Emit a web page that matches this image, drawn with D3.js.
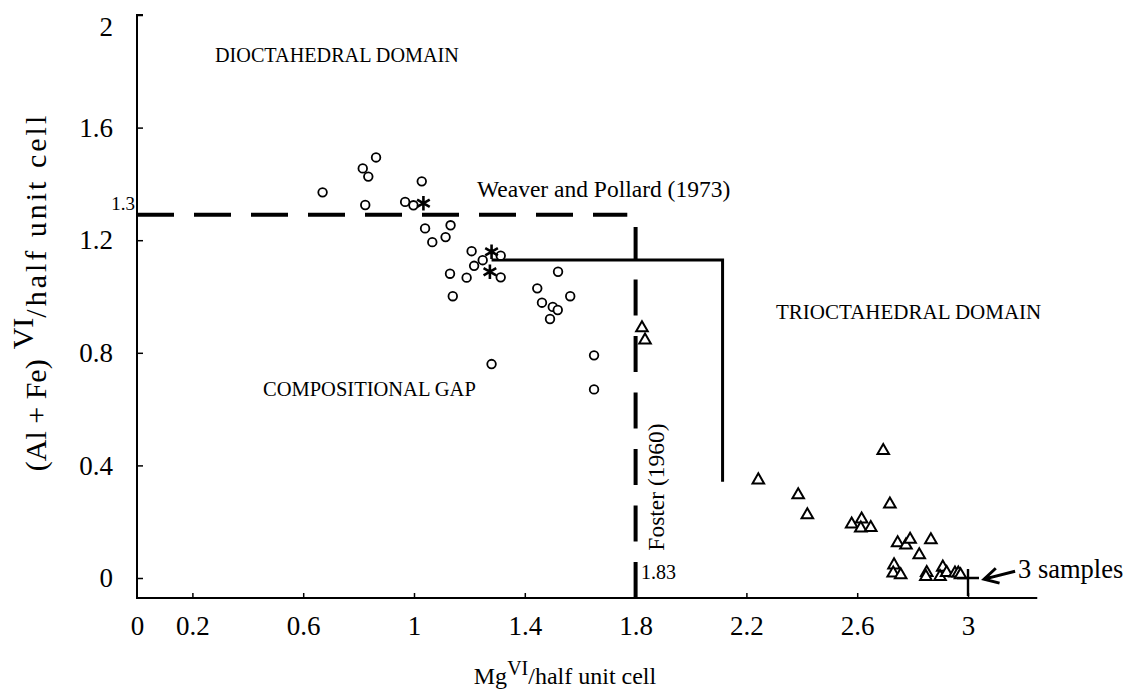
<!DOCTYPE html>
<html>
<head>
<meta charset="utf-8">
<script src="https://cdn.jsdelivr.net/npm/d3@7"></script>
<style>
	html, body { margin: 0; padding: 0; background: #fff; }
	svg { display: block; }
</style>
</head>
<body>
<div id="chart"></div>
<script>
// ? dioctahedral samples (open circles)
const circleMg = [0.67, 0.815, 0.835, 0.863, 0.824, 1.028, 0.968, 0.998, 1.04, 1.066, 1.114, 1.132, 1.208, 1.248, 1.217, 1.13, 1.19, 1.14, 1.313, 1.313, 1.28, 1.445, 1.52, 1.462, 1.501, 1.519, 1.491, 1.564, 1.65, 1.65]
const circleAlFe = [1.37, 1.455, 1.426, 1.494, 1.325, 1.409, 1.336, 1.324, 1.242, 1.193, 1.211, 1.253, 1.161, 1.129, 1.109, 1.081, 1.067, 1.001, 1.145, 1.068, 0.76, 1.029, 1.088, 0.978, 0.963, 0.952, 0.92, 1.001, 0.791, 0.67]

// ? asterisks
const starMg = [1.034, 1.28, 1.274]
const starAlFe = [1.331, 1.159, 1.088]

// ? trioctahedral samples (open triangles)
const triMg = [1.823, 1.834, 2.243, 2.387, 2.42, 2.694, 2.718, 2.58, 2.616, 2.613, 2.649, 2.746, 2.776, 2.791, 2.866, 2.824, 2.733, 2.73, 2.757, 2.851, 2.848, 2.909, 2.899, 2.923, 2.953, 2.965, 2.973]
const triAlFe = [0.888, 0.845, 0.348, 0.295, 0.224, 0.452, 0.262, 0.191, 0.209, 0.177, 0.179, 0.125, 0.117, 0.137, 0.135, 0.082, 0.046, 0.017, 0.011, 0.019, 0.005, 0.038, 0.005, 0.019, 0.017, 0.017, 0.011]

// ? "3 samples" point
const plusMg = [3]
const plusAlFe = [0]

// ? boundary lines
const weaverLine = [[0, 1.29], [1.77, 1.29]]
const fosterLine = [[1.8, -0.071], [1.8, 1.247]]
const solidLine = [[1.28, 1.13], [2.114, 1.13], [2.114, 0.342]]

const xTicks = [0, 0.2, 0.6, 1, 1.4, 1.8, 2.2, 2.6, 3]
const yTicks = [0, 0.4, 0.8, 1.2, 1.6, 2]

const width = 1126
const height = 691
const serif = '"Liberation Serif"'

const x = d3.scaleLinear().domain([0, 3]).range([137, 968])
const y = d3.scaleLinear().domain([0, 2]).range([578, 15])
const yBottom = -0.071 // ? axis runs a bit below 0
const xRight = 3.25

const svg = d3
	.create('svg')
	.attr('width', width)
	.attr('height', height)
	.attr('viewBox', [0, 0, width, height])
	.attr('font-family', serif)

svg.append('rect').attr('width', width).attr('height', height).attr('fill', '#fff')

// ? axes
const yAxis = d3
	.axisLeft(y)
	.tickValues(yTicks)
	.tickSize(-6)
	.tickPadding(24)
	.tickFormat((d) => String(d))

const xAxis = d3
	.axisBottom(x)
	.tickValues(xTicks)
	.tickSize(-5)
	.tickPadding(18)
	.tickFormat((d) => String(d))

const gy = svg.append('g').attr('transform', `translate(${x(0)},0)`).call(yAxis)
const gx = svg.append('g').attr('transform', `translate(0,${y(yBottom)})`).call(xAxis)

gy.select('.domain').remove()
gx.select('.domain').remove()
gx.selectAll('.tick').filter((d) => d === 0).select('line').remove()
// the top label sits a little below its tick in the original
gy.selectAll('.tick').filter((d) => d === 2).select('text').attr('dy', '0.75em')
svg.selectAll('.tick line').attr('stroke', '#000').attr('stroke-width', 1.5)
svg
	.selectAll('.tick text')
	.attr('fill', '#000')
	.attr('font-size', 27)
	.attr('font-family', serif)

// axis lines
svg
	.append('path')
	.attr('fill', 'none')
	.attr('stroke', '#000')
	.attr('stroke-width', 2)
	.attr('d', d3.line()([[x(0) + 6, y(2)], [x(0), y(2)], [x(0), y(yBottom)], [x(xRight), y(yBottom)]]))

const line = d3.line().x((d) => x(d[0])).y((d) => y(d[1]))

svg
	.append('path')
	.attr('fill', 'none')
	.attr('stroke', '#000')
	.attr('stroke-width', 4)
	.attr('stroke-dasharray', '37,20')
	.attr('d', line(weaverLine))

svg
	.append('path')
	.attr('fill', 'none')
	.attr('stroke', '#000')
	.attr('stroke-width', 4)
	.attr('stroke-dasharray', '36,20.5')
	.attr('d', line(fosterLine))

svg
	.append('path')
	.attr('fill', 'none')
	.attr('stroke', '#000')
	.attr('stroke-width', 3)
	.attr('d', line(solidLine))

// ? markers
const marks = svg.append('g').attr('fill', 'none').attr('stroke', '#000').attr('stroke-width', 1.8)

marks
	.selectAll('circle')
	.data(circleMg.map((m, i) => [m, circleAlFe[i]]))
	.join('circle')
	.attr('cx', (d) => x(d[0]))
	.attr('cy', (d) => y(d[1]))
	.attr('r', 4.3)
	.attr('fill', '#fff')

marks
	.selectAll('path.tri')
	.data(triMg.map((m, i) => [m, triAlFe[i]]))
	.join('path')
	.attr('class', 'tri')
	.attr('fill', '#fff')
	.attr('stroke-width', 2)
	.attr('transform', (d) => `translate(${x(d[0])},${y(d[1])})`)
	.attr('d', d3.symbol(d3.symbolTriangle, 58))

const asterisk = d3.symbolAsterisk || {
	draw(ctx, size) {
		const r = Math.sqrt(size) * 0.6
		const t = r / 2
		const u = t * Math.sqrt(3)
		ctx.moveTo(0, r); ctx.lineTo(0, -r)
		ctx.moveTo(-u, -t); ctx.lineTo(u, t)
		ctx.moveTo(-u, t); ctx.lineTo(u, -t)
	},
}

marks
	.selectAll('path.star')
	.data(starMg.map((m, i) => [m, starAlFe[i]]))
	.join('path')
	.attr('class', 'star')
	.attr('stroke-width', 2.6)
	.attr('transform', (d) => `translate(${x(d[0])},${y(d[1])})`)
	.attr('d', d3.symbol(asterisk, 150))

marks
	.selectAll('path.plus')
	.data(plusMg.map((m, i) => [m, plusAlFe[i]]))
	.join('path')
	.attr('class', 'plus')
	.attr('stroke-width', 2.4)
	.attr('transform', (d) => `translate(${x(d[0])},${y(d[1])})`)
	.attr('d', 'M-11,0H11M0,-9V18')

// ? arrow to the 3 samples
const arrowTail = [x(3.17), y(0.024)]
const arrowHead = [x(3.058), y(-0.004)]
const ang = Math.atan2(arrowHead[1] - arrowTail[1], arrowHead[0] - arrowTail[0])
const hl = 16
svg
	.append('path')
	.attr('fill', 'none')
	.attr('stroke', '#000')
	.attr('stroke-width', 3)
	.attr(
		'd',
		`M${arrowTail[0]},${arrowTail[1]}L${arrowHead[0]},${arrowHead[1]}` +
			`M${arrowHead[0] - hl * Math.cos(ang - 0.5)},${arrowHead[1] - hl * Math.sin(ang - 0.5)}` +
			`L${arrowHead[0]},${arrowHead[1]}` +
			`L${arrowHead[0] - hl * Math.cos(ang + 0.5)},${arrowHead[1] - hl * Math.sin(ang + 0.5)}`,
	)

// ? annotations
const txt = (t, px, py, size, anchor = 'start') =>
	svg
		.append('text')
		.attr('x', px)
		.attr('y', py)
		.attr('font-size', size)
		.attr('font-family', serif)
		.attr('text-anchor', anchor)
		.attr('fill', '#000')
		.text(t)

txt('DIOCTAHEDRAL DOMAIN', 215, 62, 20.2)
txt('Weaver and Pollard (1973)', 477, 197, 23.5)
txt('TRIOCTAHEDRAL DOMAIN', 776, 319, 21)
txt('COMPOSITIONAL GAP', 263, 396, 20.5)
txt('1.83', 641, 579, 20)
txt('1.3', 135, 210, 19, 'end')
txt('3 samples', 1018, 578, 26.5)

svg
	.append('text')
	.attr('transform', 'translate(664,487) rotate(-90)')
	.attr('font-size', 23.5)
	.attr('font-family', serif)
	.attr('text-anchor', 'middle')
	.text('Foster (1960)')

// ? axis titles
const yt = svg
	.append('text')
	.attr('transform', 'translate(46,292) rotate(-90)')
	.attr('font-size', 30)
	.attr('font-family', serif)
	.attr('text-anchor', 'middle')
yt.append('tspan').text('(Al + Fe)')
yt.append('tspan').attr('dx', 10).attr('dy', '-0.45em').text('VI')
yt.append('tspan').attr('dy', '0.45em').attr('letter-spacing', 3).text('/half unit cell')

const xt = svg
	.append('text')
	.attr('x', 565)
	.attr('y', 684)
	.attr('font-size', 24)
	.attr('font-family', serif)
	.attr('text-anchor', 'middle')
xt.append('tspan').text('Mg')
xt.append('tspan').attr('dy', '-0.45em').attr('font-size', 20).text('VI')
xt.append('tspan').attr('dy', '0.38em').text('/half unit cell')

document.getElementById('chart').appendChild(svg.node())
</script>
</body>
</html>
